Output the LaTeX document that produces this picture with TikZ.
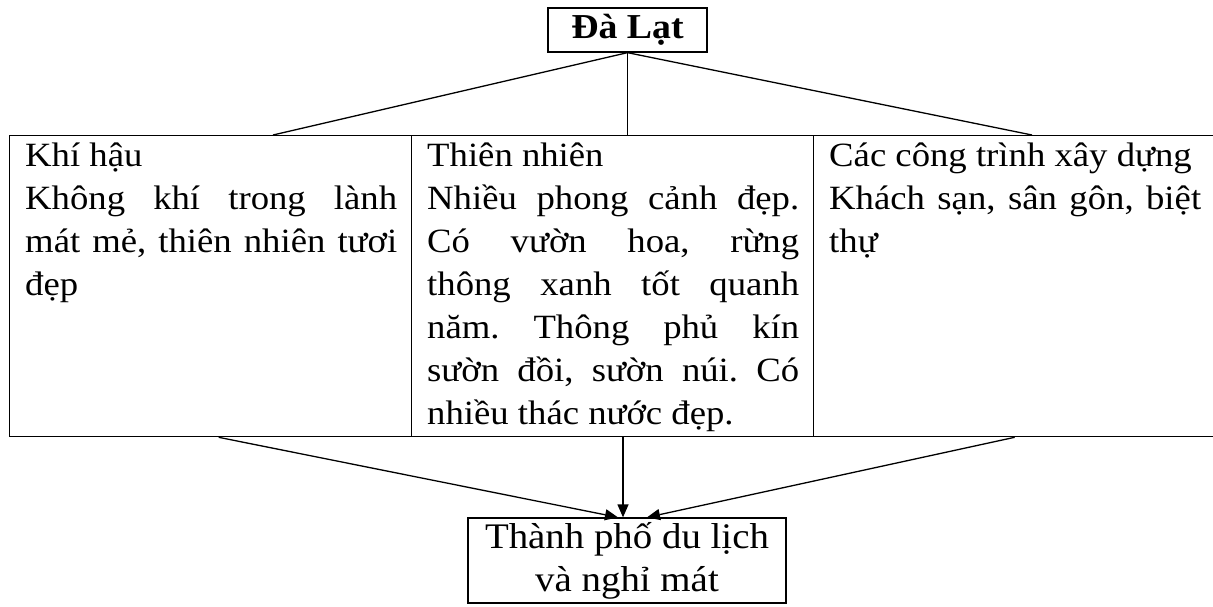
\documentclass[tikz,border=0pt]{standalone}
\usepackage{fontspec}
\setmainfont[FakeStretch=1.08]{Liberation Serif}
\usepackage{tikz}
\usetikzlibrary{positioning, arrows.meta}
\tolerance=10000
\hbadness=10000

\begin{document}
\begin{tikzpicture}[x=1pt, y=-1pt,
            bx/.style={draw, line width=1.3pt, inner sep=0pt, align=center},
            cellbx/.style={draw, line width=1.3pt, inner sep=0pt, anchor=north west,
                       minimum width=402pt, minimum height=301pt},
            txt/.style={text width=372pt, align=justify, inner sep=0pt, anchor=north west,
                       font=\fontsize{34}{43}\selectfont\frenchspacing},
            link/.style={line width=1.3pt},
            arr/.style={-{Triangle[length=13pt, width=11pt]}, line width=1.3pt}
          ]
          \useasboundingbox (0,0) rectangle (1213,606);

          % top
          \node[bx, minimum width=159pt, minimum height=44pt,
                font=\bfseries\fontsize{35}{40}\selectfont] (city) at (627.5,30) {Đà Lạt};

          % three cells
          \node[cellbx] (clim)  at (9,135)   {};
          \node[cellbx] (natu)  at (411,135) {};
          \node[cellbx] (build) at (813,135) {};
          \node[txt] (climtxt)  at ([xshift=16pt]clim.north west)
                {\rule{0pt}{31pt}Khí hậu\\
                 Không khí trong lành\linebreak
                 mát mẻ, thiên nhiên tươi\linebreak
                 đẹp};
          \node[txt] (natutxt)  at ([xshift=16pt]natu.north west)
                {\rule{0pt}{31pt}Thiên nhiên\\
                 Nhiều phong cảnh đẹp.\linebreak
                 Có vườn hoa, rừng\linebreak
                 thông xanh tốt quanh\linebreak
                 năm. Thông phủ kín\linebreak
                 sườn đồi, sườn núi. Có\linebreak
                 nhiều thác nước đẹp.};
          \node[txt] (buildtxt) at ([xshift=16pt]build.north west)
                {\rule{0pt}{31pt}Các công trình xây dựng\\
                 Khách sạn, sân gôn, biệt\linebreak
                 thự};

          % bottom
          \node[bx, minimum width=318pt, minimum height=85pt,
                font=\fontsize{36}{43}\selectfont] (resort) at (627,560.5)
                {Thành phố du lịch\\và nghỉ mát};

          \coordinate (climtop)  at ([xshift=264pt]clim.north west);
          \coordinate (buildtop) at ([xshift=219pt]build.north west);
          \draw[link] (city.south) -- (climtop);
          \draw[link] (city.south) -- (city.south |- natu.north);
          \draw[link] (city.south) -- (buildtop);

          \coordinate (climbot) at ([xshift=8pt]clim.south);
          \coordinate (natubot) at ([xshift=-4pt]resort.north |- natu.south);
          \coordinate (inleft)  at ([xshift=-9pt]resort.north);
          \coordinate (inmid)   at ([xshift=-4pt]resort.north);
          \coordinate (inright) at ([xshift=20pt]resort.north);
          \draw[arr] (climbot) -- (inleft);
          \draw[arr] (natubot) -- (inmid);
          \draw[arr] (build.south) -- (inright);
        \end{tikzpicture}
\end{document}
